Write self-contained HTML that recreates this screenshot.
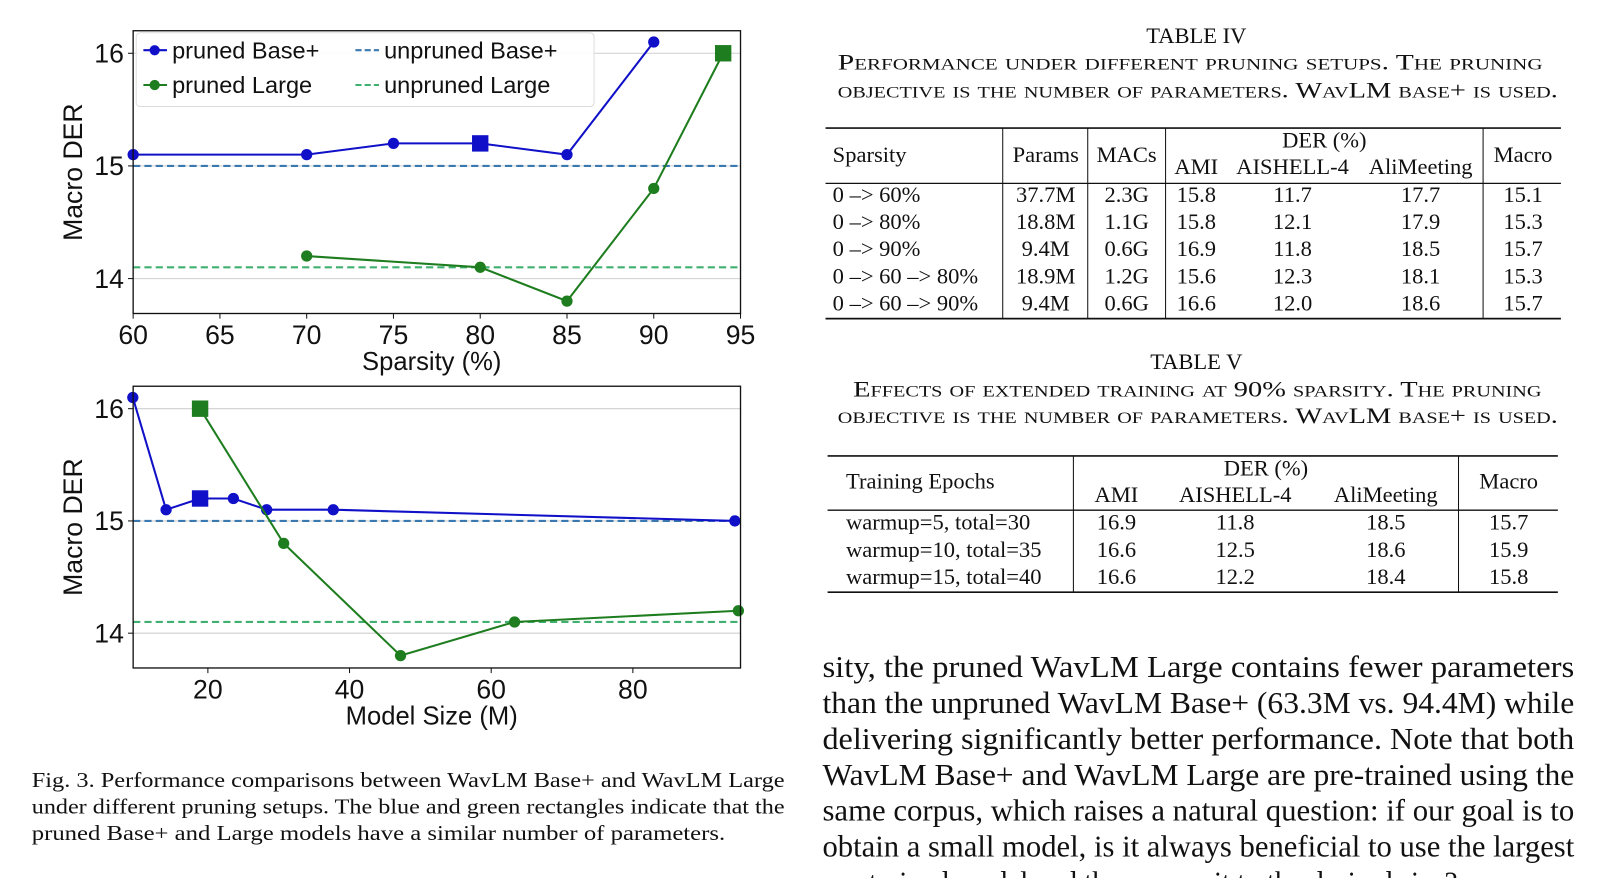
<!DOCTYPE html>
<html><head><meta charset="utf-8"><style>
html,body{margin:0;padding:0;background:#fff;}
svg{display:block;}
.serif{font-family:"Liberation Serif",serif;fill:#111;}
.sans{font-family:"Liberation Sans",sans-serif;fill:#111;}
.sc{font-variant:small-caps;}
</style></head><body>
<svg id="page" width="1606" height="878" viewBox="0 0 1568 857" preserveAspectRatio="none" xmlns="http://www.w3.org/2000/svg">
<g id="charts"></g>

<!-- Figure caption -->
<g class="serif" font-size="21">
<text x="31" y="768" textLength="735" lengthAdjust="spacingAndGlyphs">Fig. 3.   Performance comparisons between WavLM Base+ and WavLM Large</text>
<text x="31" y="794" textLength="735" lengthAdjust="spacingAndGlyphs">under different pruning setups. The blue and green rectangles indicate that the</text>
<text x="31" y="820" textLength="677" lengthAdjust="spacingAndGlyphs">pruned Base+ and Large models have a similar number of parameters.</text>
</g>

<!-- Table IV -->
<g class="serif" font-size="22">
<text x="1168" y="42" text-anchor="middle">TABLE IV</text>
<text class="sc" x="818" y="68" textLength="688" lengthAdjust="spacingAndGlyphs">Performance under different pruning setups. The pruning</text>
<text class="sc" x="818" y="95" textLength="703" lengthAdjust="spacingAndGlyphs">objective is the number of parameters. WavLM base+ is used.</text>
<g stroke="#111" fill="none">
<line x1="806" y1="125" x2="1524" y2="125" stroke-width="1.6"/>
<line x1="806" y1="179" x2="1524" y2="179" stroke-width="1.3"/>
<line x1="806" y1="311" x2="1524" y2="311" stroke-width="1.6"/>
<line x1="979" y1="125" x2="979" y2="311" stroke-width="1"/>
<line x1="1062" y1="125" x2="1062" y2="311" stroke-width="1"/>
<line x1="1138" y1="125" x2="1138" y2="311" stroke-width="1"/>
<line x1="1448" y1="125" x2="1448" y2="311" stroke-width="1"/>
</g>
<text x="813" y="158">Sparsity</text>
<text x="1021" y="158" text-anchor="middle">Params</text>
<text x="1100" y="158" text-anchor="middle">MACs</text>
<text x="1293" y="144" text-anchor="middle">DER (%)</text>
<text x="1168" y="170" text-anchor="middle">AMI</text>
<text x="1262" y="170" text-anchor="middle">AISHELL-4</text>
<text x="1387" y="170" text-anchor="middle">AliMeeting</text>
<text x="1487" y="158" text-anchor="middle">Macro</text>
<g id="t4rows"></g>
</g>

<!-- Table V -->
<g class="serif" font-size="22">
<text x="1168" y="360" text-anchor="middle">TABLE V</text>
<text class="sc" x="833" y="387" textLength="672" lengthAdjust="spacingAndGlyphs">Effects of extended training at 90% sparsity. The pruning</text>
<text class="sc" x="818" y="413" textLength="703" lengthAdjust="spacingAndGlyphs">objective is the number of parameters. WavLM base+ is used.</text>
<g stroke="#111" fill="none">
<line x1="808" y1="445" x2="1521" y2="445" stroke-width="1.6"/>
<line x1="808" y1="498" x2="1521" y2="498" stroke-width="1.3"/>
<line x1="808" y1="578" x2="1521" y2="578" stroke-width="1.6"/>
<line x1="1048" y1="445" x2="1048" y2="578" stroke-width="1"/>
<line x1="1424" y1="445" x2="1424" y2="578" stroke-width="1"/>
</g>
<text x="826" y="477">Training Epochs</text>
<text x="1236" y="464" text-anchor="middle">DER (%)</text>
<text x="1090" y="490" text-anchor="middle">AMI</text>
<text x="1206" y="490" text-anchor="middle">AISHELL-4</text>
<text x="1353" y="490" text-anchor="middle">AliMeeting</text>
<text x="1473" y="477" text-anchor="middle">Macro</text>
<g id="t5rows"></g>
</g>

<!-- Body text -->
<g class="serif" font-size="30">
<text x="803" y="661" textLength="734" lengthAdjust="spacingAndGlyphs">sity, the pruned WavLM Large contains fewer parameters</text>
<text x="803" y="696" textLength="734" lengthAdjust="spacingAndGlyphs">than the unpruned WavLM Base+ (63.3M vs. 94.4M) while</text>
<text x="803" y="731" textLength="734" lengthAdjust="spacingAndGlyphs">delivering significantly better performance. Note that both</text>
<text x="803" y="766" textLength="734" lengthAdjust="spacingAndGlyphs">WavLM Base+ and WavLM Large are pre-trained using the</text>
<text x="803" y="801" textLength="734" lengthAdjust="spacingAndGlyphs">same corpus, which raises a natural question: if our goal is to</text>
<text x="803" y="836" textLength="734" lengthAdjust="spacingAndGlyphs">obtain a small model, is it always beneficial to use the largest</text>
<text x="803" y="871" textLength="620" lengthAdjust="spacingAndGlyphs">pre-trained model and then prune it to the desired size?</text>
</g>
</svg>
<script>
// ---- Chart data ----
const topBaseX = [60, 70, 75, 80, 85, 90];
const topBaseY = [15.1, 15.1, 15.2, 15.2, 15.1, 16.1];
const topBaseSquare = 3;
const topLargeX = [70, 80, 85, 90, 94];
const topLargeY = [14.2, 14.1, 13.8, 14.8, 16.0];
const topLargeSquare = 4;
const topXTicks = [60, 65, 70, 75, 80, 85, 90, 95];

const botBaseX = [9.4, 14.1, 18.9, 23.6, 28.3, 37.7, 94.4];
const botBaseY = [16.1, 15.1, 15.2, 15.2, 15.1, 15.1, 15.0];
const botBaseSquare = 2;
const botLargeX = [18.9, 30.7, 47.2, 63.3, 94.9];
const botLargeY = [16.0, 14.8, 13.8, 14.1, 14.2];
const botLargeSquare = 0;
const botXTicks = [20, 40, 60, 80];

const yTicks = [14, 15, 16];
const unprunedBase = 15.0;
const unprunedLarge = 14.1;

const t4Rows = [
 ["0 –> 60%", "37.7M", "2.3G", "15.8", "11.7", "17.7", "15.1"],
 ["0 –> 80%", "18.8M", "1.1G", "15.8", "12.1", "17.9", "15.3"],
 ["0 –> 90%", "9.4M", "0.6G", "16.9", "11.8", "18.5", "15.7"],
 ["0 –> 60 –> 80%", "18.9M", "1.2G", "15.6", "12.3", "18.1", "15.3"],
 ["0 –> 60 –> 90%", "9.4M", "0.6G", "16.6", "12.0", "18.6", "15.7"]
];
const t5Rows = [
 ["warmup=5, total=30", "16.9", "11.8", "18.5", "15.7"],
 ["warmup=10, total=35", "16.6", "12.5", "18.6", "15.9"],
 ["warmup=15, total=40", "16.6", "12.2", "18.4", "15.8"]
];

const NS = "http://www.w3.org/2000/svg";
function mk(tag, attrs, parent) {
  const e = document.createElementNS(NS, tag);
  for (const k in attrs) e.setAttribute(k, attrs[k]);
  parent.appendChild(e);
  return e;
}
const BLUE = "#1010c8", GREEN = "#1e7d1e", UBLUE = "#3a78b0", UGREEN = "#40b070";

function drawChart(g, box, xmin, xmax, xTicks, xLabel, base, large, prefix) {
  const sx = v => box.x0 + (v - xmin) / (xmax - xmin) * (box.x1 - box.x0);
  const sy = v => box.y0 + (16.2 - v) / (16.2 - 13.69) * (box.y1 - box.y0);
  yTicks.forEach(t => {
    const l = mk("line", {x1: box.x0, x2: box.x1, y1: sy(t), y2: sy(t), stroke: "#cfcfcf", "stroke-width": 1}, g);
    
    
    const tx = mk("text", {x: box.x0 - 9, y: sy(t) + 9, "text-anchor": "end", "font-size": 26, class: "sans"}, g);
    tx.textContent = t;
    
    
    mk("line", {x1: box.x0 - 5, x2: box.x0, y1: sy(t), y2: sy(t), stroke: "#111"}, g);
  });
  xTicks.forEach(t => {
    mk("line", {x1: sx(t), x2: sx(t), y1: box.y1, y2: box.y1 + 5, stroke: "#111"}, g);
    const tx = mk("text", {x: sx(t), y: box.y1 + 30, "text-anchor": "middle", "font-size": 26, class: "sans"}, g);
    tx.textContent = t;
    
    
  });
  const ub = mk("line", {x1: box.x0, x2: box.x1, y1: sy(unprunedBase), y2: sy(unprunedBase), stroke: UBLUE, "stroke-width": 2, "stroke-dasharray": "7 4"}, g);
  
  
  const ul = mk("line", {x1: box.x0, x2: box.x1, y1: sy(unprunedLarge), y2: sy(unprunedLarge), stroke: UGREEN, "stroke-width": 2, "stroke-dasharray": "7 4"}, g);
  
  
  [[base, BLUE, "pruned-base"], [large, GREEN, "pruned-large"]].forEach(([s, col, nm]) => {
    const pts = s.x.map((v, i) => sx(v) + "," + sy(s.y[i])).join(" ");
    const pl = mk("polyline", {points: pts, fill: "none", stroke: col, "stroke-width": 2}, g);
    
    
    s.x.forEach((v, i) => {
      let m;
      if (i === s.sq) m = mk("rect", {x: sx(v) - 8, y: sy(s.y[i]) - 8, width: 16, height: 16, fill: col}, g);
      else m = mk("circle", {cx: sx(v), cy: sy(s.y[i]), r: 5.5, fill: col}, g);
      
      
    });
  });
  const fr = mk("rect", {x: box.x0, y: box.y0, width: box.x1 - box.x0, height: box.y1 - box.y0, fill: "none", stroke: "#111", "stroke-width": 1.3}, g);
  
  
  const xl = mk("text", {x: (box.x0 + box.x1) / 2 - 5, y: box.y1 + 55, "text-anchor": "middle", "font-size": 25, class: "sans"}, g);
  xl.textContent = xLabel;
  
  
  const cy = (box.y0 + box.y1) / 2;
  const yl = mk("text", {x: 80, y: cy, "text-anchor": "middle", "font-size": 26, class: "sans", transform: "rotate(-90 80 " + cy + ")"}, g);
  yl.textContent = "Macro DER";
  
  
}

const charts = document.getElementById("charts");
const gTop = mk("g", {}, charts);


drawChart(gTop, {x0: 130, x1: 723, y0: 30, y1: 306}, 60, 95, topXTicks, "Sparsity (%)",
  {x: topBaseX, y: topBaseY, sq: topBaseSquare}, {x: topLargeX, y: topLargeY, sq: topLargeSquare}, "top");
const gBot = mk("g", {}, charts);


drawChart(gBot, {x0: 130, x1: 723, y0: 377, y1: 652}, 9.45, 95.2, botXTicks, "Model Size (M)",
  {x: botBaseX, y: botBaseY, sq: botBaseSquare}, {x: botLargeX, y: botLargeY, sq: botLargeSquare}, "bottom");

const lg = mk("g", {}, gTop);


mk("rect", {x: 133, y: 32, width: 447, height: 72, rx: 4, fill: "#fff", "fill-opacity": 0.9, stroke: "#ddd"}, lg);
const entries = [
  [140, 49, BLUE, false, "pruned Base+"], [347, 49, UBLUE, true, "unpruned Base+"],
  [140, 83, GREEN, false, "pruned Large"], [347, 83, UGREEN, true, "unpruned Large"]
];
entries.forEach(([x, y, c, dash, label]) => {
  const eg = mk("g", {}, lg);
  
  
  mk("line", {x1: x, x2: x + 23, y1: y, y2: y, stroke: c, "stroke-width": 2, "stroke-dasharray": dash ? "6 3" : "none"}, eg);
  if (!dash) mk("circle", {cx: x + 11, cy: y, r: 5, fill: c}, eg);
  const t = mk("text", {x: x + 28, y: y + 8, "font-size": 23, class: "sans"}, eg);
  t.textContent = label;
});

const t4 = document.getElementById("t4rows");
const t4X = [813, 1021, 1100, 1168, 1262, 1387, 1487];
t4Rows.forEach((r, i) => {
  const y = 197 + i * 26.5;
  r.forEach((c, j) => {
    const t = mk("text", {x: t4X[j], y: y, "text-anchor": j === 0 ? "start" : "middle"}, t4);
    t.textContent = c;
    
    
  });
});
const t5 = document.getElementById("t5rows");
const t5X = [826, 1090, 1206, 1353, 1473];
t5Rows.forEach((r, i) => {
  const y = 517 + i * 26.5;
  r.forEach((c, j) => {
    const t = mk("text", {x: t5X[j], y: y, "text-anchor": j === 0 ? "start" : "middle"}, t5);
    t.textContent = c;
    
    
  });
});
</script>
</body></html>
